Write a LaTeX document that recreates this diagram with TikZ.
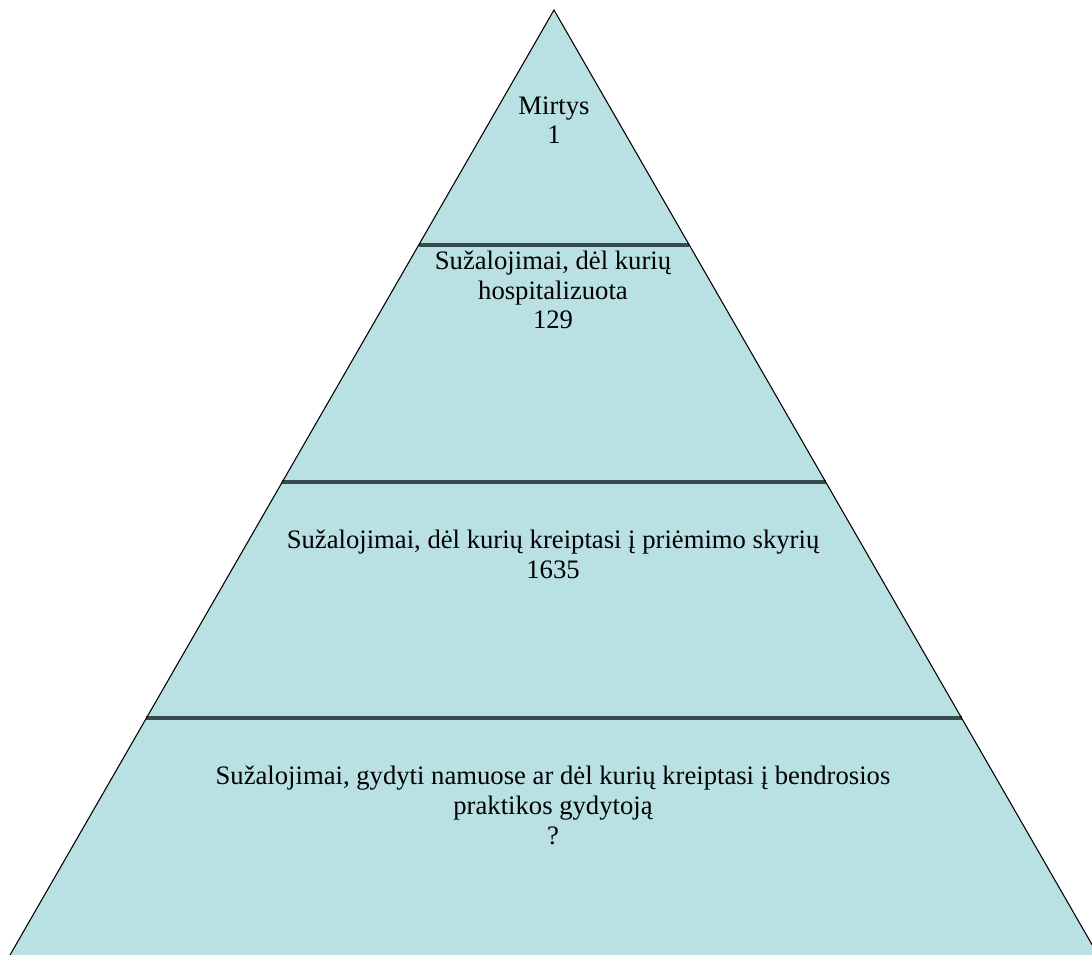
\documentclass[tikz,border=0pt]{standalone}
\usepackage{fontspec}
\setmainfont{Liberation Serif}
\usetikzlibrary{calc}
\definecolor{pyrfill}{RGB}{185,224,227}
\definecolor{bandline}{RGB}{55,74,76}
\tikzset{
  pyrlabel/.style={anchor=base, align=center, inner sep=0pt, font=\fontsize{20pt}{22.4pt}\selectfont, text=black},
  outline/.style={draw=black, line width=0.8pt},
  divider/.style={draw=bandline, line width=2.6pt}
}
\begin{document}
\begin{tikzpicture}[x=0.75pt,y=-0.75pt]
\useasboundingbox (0,0) rectangle (1092,955);
\clip (0,0) rectangle (1092,955);
\coordinate (apex) at (554,10);
\coordinate (bl) at (10,955);
\coordinate (br) at (1098,955);
\fill[pyrfill] (apex) -- (bl) -- (br) -- cycle;
\coordinate (l1) at ($(apex)!0.2487!(bl)$);
\coordinate (r1) at ($(apex)!0.2487!(br)$);
\coordinate (l2) at ($(apex)!0.4995!(bl)$);
\coordinate (r2) at ($(apex)!0.4995!(br)$);
\coordinate (l3) at ($(apex)!0.7492!(bl)$);
\coordinate (r3) at ($(apex)!0.7492!(br)$);
\draw[divider] (l1) -- (r1);
\draw[divider] (l2) -- (r2);
\draw[divider] (l3) -- (r3);
\draw[outline] (bl) -- (apex) -- (br);
\node[pyrlabel] (t1) at (554,144) {Mirtys\\1};
\node[pyrlabel] (t2) at (553,329) {Sužalojimai, dėl kurių\\hospitalizuota\\129};
\node[pyrlabel] (t3) at (553,578) {Sužalojimai, dėl kurių kreiptasi į priėmimo skyrių\\1635};
\node[pyrlabel] (t4) at (553,844) {Sužalojimai, gydyti namuose ar dėl kurių kreiptasi į bendrosios\\praktikos gydytoją\\?};
\end{tikzpicture}
\end{document}
